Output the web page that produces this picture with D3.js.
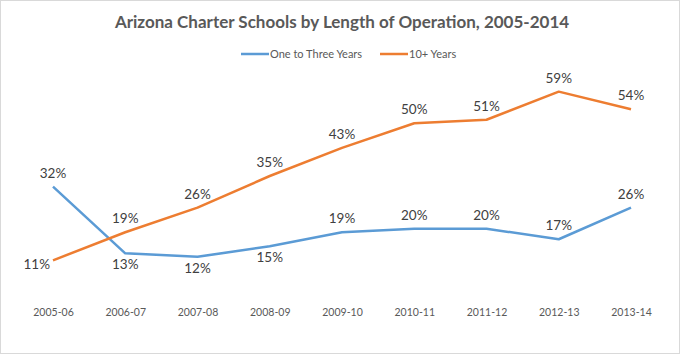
<!DOCTYPE html>
<html>
<head>
<meta charset="utf-8">
<script src="https://cdn.jsdelivr.net/npm/d3@7"></script>
<style>
  html, body { margin: 0; padding: 0; background: #fff; }
  #chart { width: 680px; height: 354px; }
</style>
</head>
<body>
<div id="chart"></div>
<script>
const YEARS = ['2005-06', '2006-07', '2007-08', '2008-09', '2009-10', '2010-11', '2011-12', '2012-13', '2013-14'];
const ONE_TO_THREE = [32, 13, 12, 15, 19, 20, 20, 17, 26];
const TEN_PLUS = [11, 19, 26, 35, 43, 50, 51, 59, 54];
// where each point label sits relative to its point
const ONE_TO_THREE_POS = ['above', 'below', 'below', 'below', 'above', 'above', 'above', 'above', 'above'];
const TEN_PLUS_POS = ['left', 'above', 'above', 'above', 'above', 'above', 'above', 'above', 'above'];

const W = 680, H = 354;
const FONT = 'Lato, "Open Sans", sans-serif';
const svg = d3.select('#chart').append('svg').attr('width', W).attr('height', H);

svg.append('rect').attr('x', 0.5).attr('y', 0.5).attr('width', W - 1).attr('height', H - 1)
  .attr('fill', '#fff').attr('stroke', '#d9d9d9');

svg.append('text').attr('x', 342).attr('y', 28).attr('text-anchor', 'middle')
  .attr('fill', '#595959').style('font-family', FONT).style('font-size', '17px').style('font-weight', 700)
  .text('Arizona Charter Schools by Length of Operation, 2005-2014');

const x = d3.scalePoint().domain(YEARS).range([53, 631]);
const y = d3.scaleLinear().domain([0, 70]).range([299, 53]);

const series = [
  { name: 'One to Three Years', values: ONE_TO_THREE, pos: ONE_TO_THREE_POS, color: '#5B9BD5' },
  { name: '10+ Years', values: TEN_PLUS, pos: TEN_PLUS_POS, color: '#ED7D31' }
];

// legend
const legendX = [241, 380];
series.forEach((s, i) => {
  const g = svg.append('g').attr('transform', `translate(${legendX[i]},54)`);
  g.append('line').attr('x1', 0).attr('x2', 28).attr('stroke', s.color).attr('stroke-width', 2.5);
  g.append('text').attr('x', 29).attr('y', 4).attr('fill', '#595959')
    .style('font-family', FONT).style('font-size', '11px').text(s.name);
});

// x axis labels
const xAxis = svg.append('g').attr('transform', 'translate(0,299)')
  .call(d3.axisBottom(x).tickSize(0).tickPadding(10));
xAxis.select('.domain').remove();
xAxis.selectAll('text').attr('fill', '#595959').style('font-family', FONT).style('font-size', '10.5px');

const line = d3.line().x((d, i) => x(YEARS[i])).y(d => y(d));

series.forEach(s => {
  svg.append('path').datum(s.values).attr('d', line).attr('fill', 'none')
    .attr('stroke', s.color).attr('stroke-width', 2.5).attr('stroke-linejoin', 'round');
});

series.forEach(s => {
  svg.append('g').selectAll('text').data(s.values).enter().append('text')
    .attr('x', (d, i) => s.pos[i] === 'left' ? x(YEARS[i]) - 3 : x(YEARS[i]))
    .attr('y', (d, i) => s.pos[i] === 'above' ? y(d) - 9 : s.pos[i] === 'below' ? y(d) + 16 : y(d) + 9)
    .attr('text-anchor', (d, i) => s.pos[i] === 'left' ? 'end' : 'middle').attr('fill', '#404040')
    .style('font-family', FONT).style('font-size', '13.5px')
    .text(d => d + '%');
});
</script>
</body>
</html>
